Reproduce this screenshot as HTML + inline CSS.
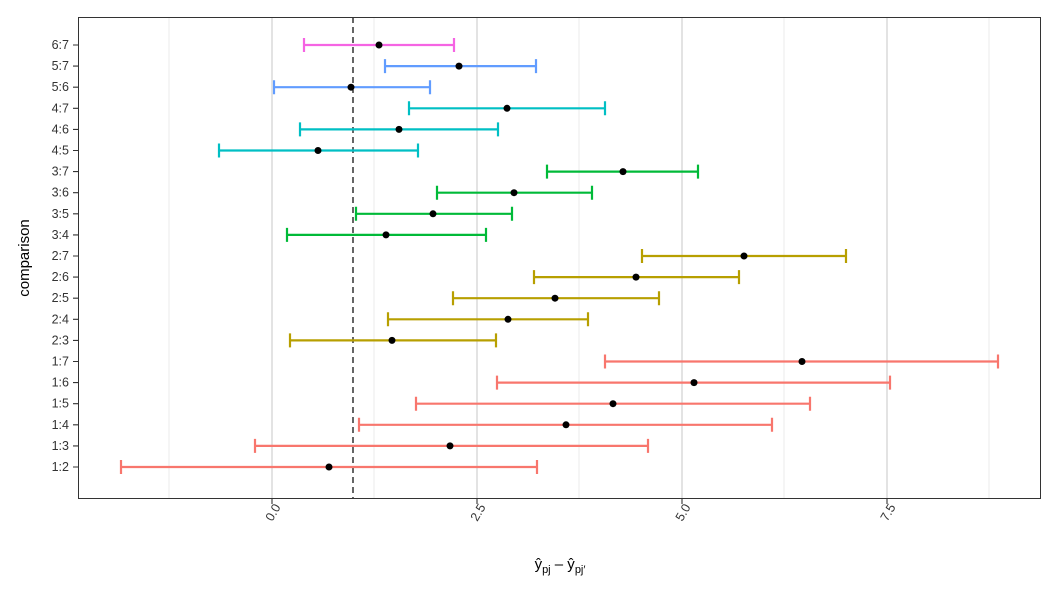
<!DOCTYPE html>
<html><head><style>body{margin:0;background:#fff}svg{display:block}</style></head><body>
<svg width="1056" height="595" xmlns="http://www.w3.org/2000/svg" font-family="Liberation Sans, sans-serif">
<rect width="1056" height="595" fill="#fff"/>
<g stroke="#ebebeb" stroke-width="1">
<line x1="169" y1="17" x2="169" y2="498"/><line x1="374" y1="17" x2="374" y2="498"/><line x1="579" y1="17" x2="579" y2="498"/><line x1="784" y1="17" x2="784" y2="498"/><line x1="989" y1="17" x2="989" y2="498"/>
</g>
<g stroke="#e3e3e3" stroke-width="2">
<line x1="272" y1="17" x2="272" y2="498"/><line x1="477" y1="17" x2="477" y2="498"/><line x1="682" y1="17" x2="682" y2="498"/><line x1="887" y1="17" x2="887" y2="498"/>
</g>
<line x1="353" y1="17" x2="353" y2="498" stroke="#000" stroke-dasharray="6,4" stroke-width="1.2"/>
<g stroke-width="2.2" fill="none">
<path stroke="#F564E3" d="M304 45H454M304 38V52M454 38V52"/>
<path stroke="#619CFF" d="M385 66.1H536M385 59.1V73.1M536 59.1V73.1"/>
<path stroke="#619CFF" d="M274 87.2H430M274 80.2V94.2M430 80.2V94.2"/>
<path stroke="#00BFC4" d="M409 108.3H605M409 101.3V115.3M605 101.3V115.3"/>
<path stroke="#00BFC4" d="M300 129.4H498M300 122.4V136.4M498 122.4V136.4"/>
<path stroke="#00BFC4" d="M219 150.5H418M219 143.5V157.5M418 143.5V157.5"/>
<path stroke="#00BA38" d="M547 171.6H698M547 164.6V178.6M698 164.6V178.6"/>
<path stroke="#00BA38" d="M437 192.7H592M437 185.7V199.7M592 185.7V199.7"/>
<path stroke="#00BA38" d="M356 213.8H512M356 206.8V220.8M512 206.8V220.8"/>
<path stroke="#00BA38" d="M287 234.9H486M287 227.9V241.9M486 227.9V241.9"/>
<path stroke="#B79F00" d="M642 256H846M642 249V263M846 249V263"/>
<path stroke="#B79F00" d="M534 277.1H739M534 270.1V284.1M739 270.1V284.1"/>
<path stroke="#B79F00" d="M453 298.2H659M453 291.2V305.2M659 291.2V305.2"/>
<path stroke="#B79F00" d="M388 319.3H588M388 312.3V326.3M588 312.3V326.3"/>
<path stroke="#B79F00" d="M290 340.4H496M290 333.4V347.4M496 333.4V347.4"/>
<path stroke="#F8766D" d="M605 361.5H998M605 354.5V368.5M998 354.5V368.5"/>
<path stroke="#F8766D" d="M497 382.6H890M497 375.6V389.6M890 375.6V389.6"/>
<path stroke="#F8766D" d="M416 403.7H810M416 396.7V410.7M810 396.7V410.7"/>
<path stroke="#F8766D" d="M359 424.8H772M359 417.8V431.8M772 417.8V431.8"/>
<path stroke="#F8766D" d="M255 445.9H648M255 438.9V452.9M648 438.9V452.9"/>
<path stroke="#F8766D" d="M121 467H537M121 460V474M537 460V474"/>
</g>
<g fill="#000">
<circle cx="379" cy="45" r="3.5"/><circle cx="459" cy="66.1" r="3.5"/><circle cx="351" cy="87.2" r="3.5"/><circle cx="507" cy="108.3" r="3.5"/><circle cx="399" cy="129.4" r="3.5"/><circle cx="318" cy="150.5" r="3.5"/><circle cx="623" cy="171.6" r="3.5"/><circle cx="514" cy="192.7" r="3.5"/><circle cx="433" cy="213.8" r="3.5"/><circle cx="386" cy="234.9" r="3.5"/><circle cx="744" cy="256" r="3.5"/><circle cx="636" cy="277.1" r="3.5"/><circle cx="555" cy="298.2" r="3.5"/><circle cx="508" cy="319.3" r="3.5"/><circle cx="392" cy="340.4" r="3.5"/><circle cx="802" cy="361.5" r="3.5"/><circle cx="694" cy="382.6" r="3.5"/><circle cx="613" cy="403.7" r="3.5"/><circle cx="566" cy="424.8" r="3.5"/><circle cx="450" cy="445.9" r="3.5"/><circle cx="329" cy="467" r="3.5"/>
</g>
<rect x="78.5" y="17.5" width="962" height="481" fill="none" stroke="#333" stroke-width="1"/>
<g stroke="#333" stroke-width="1.1">
<line x1="272" y1="499" x2="272" y2="504"/><line x1="477" y1="499" x2="477" y2="504"/><line x1="682" y1="499" x2="682" y2="504"/><line x1="887" y1="499" x2="887" y2="504"/>
<path d="M73 45H78M73 66.1H78M73 87.2H78M73 108.3H78M73 129.4H78M73 150.5H78M73 171.6H78M73 192.7H78M73 213.8H78M73 234.9H78M73 256H78M73 277.1H78M73 298.2H78M73 319.3H78M73 340.4H78M73 361.5H78M73 382.6H78M73 403.7H78M73 424.8H78M73 445.9H78M73 467H78"/>
</g>
<g font-size="12.5" fill="#333" text-anchor="end">
<text transform="translate(281,507) rotate(-60)">0.0</text>
<text transform="translate(486,507) rotate(-60)">2.5</text>
<text transform="translate(691,507) rotate(-60)">5.0</text>
<text transform="translate(896,507) rotate(-60)">7.5</text>
</g>
<g font-size="12.5" fill="#333" text-anchor="end">
<text x="69" y="49">6:7</text><text x="69" y="70.1">5:7</text><text x="69" y="91.2">5:6</text><text x="69" y="112.3">4:7</text><text x="69" y="133.4">4:6</text><text x="69" y="154.5">4:5</text><text x="69" y="175.6">3:7</text><text x="69" y="196.7">3:6</text><text x="69" y="217.8">3:5</text><text x="69" y="238.9">3:4</text><text x="69" y="260">2:7</text><text x="69" y="281.1">2:6</text><text x="69" y="302.2">2:5</text><text x="69" y="323.3">2:4</text><text x="69" y="344.4">2:3</text><text x="69" y="365.5">1:7</text><text x="69" y="386.6">1:6</text><text x="69" y="407.7">1:5</text><text x="69" y="428.8">1:4</text><text x="69" y="449.9">1:3</text><text x="69" y="471">1:2</text>
</g>
<text transform="translate(29,258) rotate(-90)" font-size="15" text-anchor="middle" fill="#000">comparison</text>
<text x="560" y="569" font-size="15" text-anchor="middle">ŷ<tspan font-size="11" dy="4">pj</tspan><tspan dy="-4"> – ŷ</tspan><tspan font-size="11" dy="4">pj′</tspan></text>
</svg>
</body></html>
